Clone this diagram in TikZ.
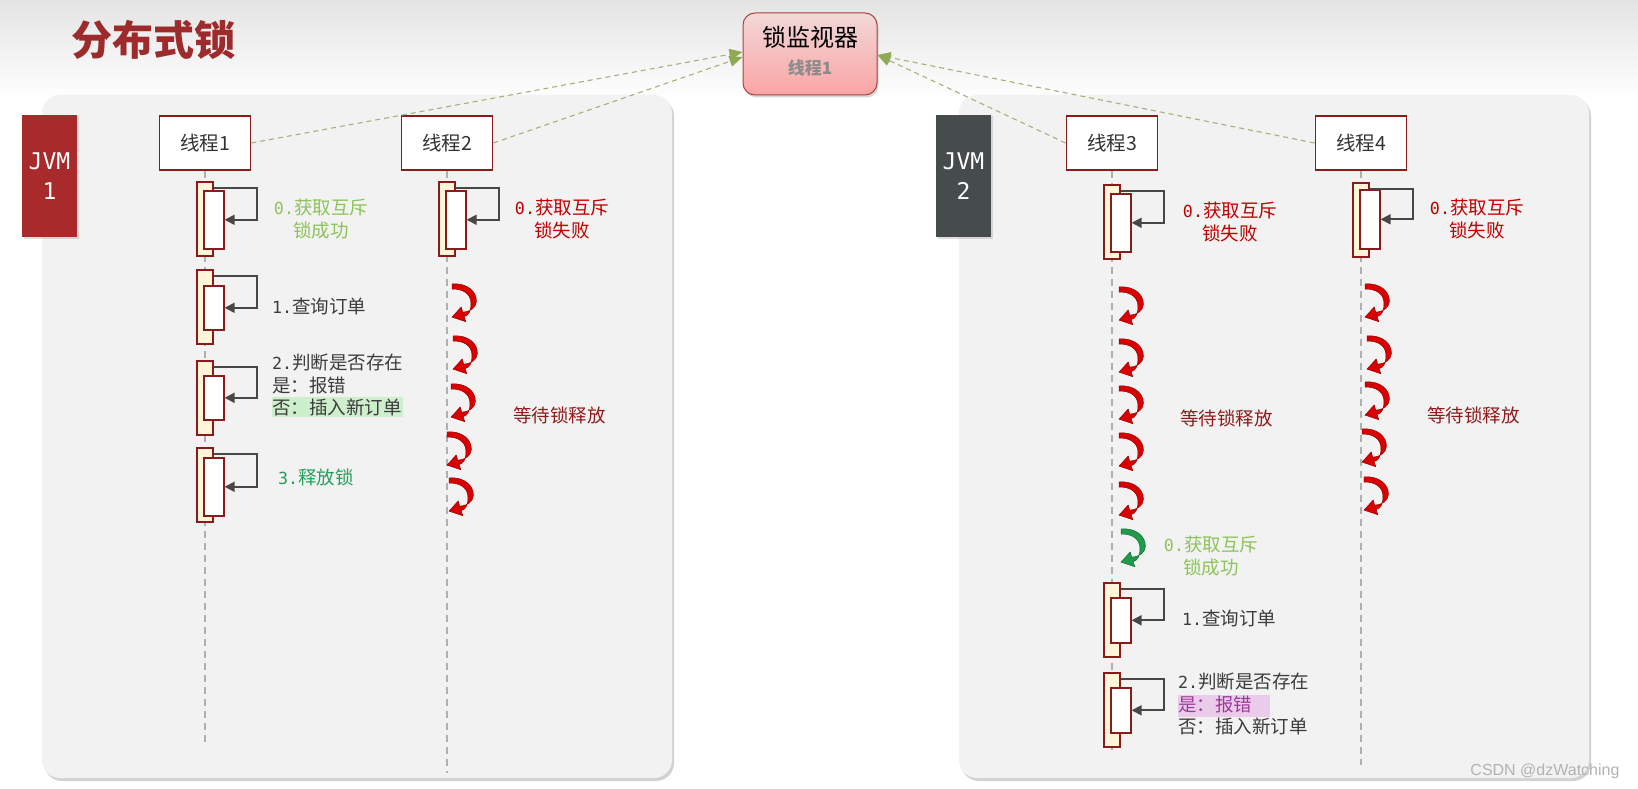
\documentclass[tikz,border=0pt]{standalone}
\usepackage{fontspec}
\setmainfont{Noto Sans CJK SC}
\newfontfamily\monof[Scale=0.9]{DejaVu Sans Mono}
\newfontfamily\jvmf{DejaVu Sans Mono}
\newfontfamily\wmf{Liberation Sans}
\usetikzlibrary{arrows.meta, shadows}

\definecolor{frame}{HTML}{8B1A1A}
\definecolor{actfill}{HTML}{FFF6DA}
\definecolor{bgtop}{HTML}{E4E4E4}
\definecolor{panelgray}{HTML}{F2F2F2}
\definecolor{titlered}{HTML}{9E2B2B}
\definecolor{jvmred}{HTML}{A82A2A}
\definecolor{jvmgray}{HTML}{464B4B}
\definecolor{monborder}{HTML}{A8443F}
\definecolor{montop}{HTML}{F2D8D8}
\definecolor{monbot}{HTML}{FBA4A4}
\definecolor{linkolive}{HTML}{A3B27A}
\definecolor{monarrow}{HTML}{8FAA55}
\definecolor{lifegray}{HTML}{AFAFAF}
\definecolor{callgray}{HTML}{474747}
\definecolor{okgreen}{HTML}{8DC35A}
\definecolor{failred}{HTML}{C00000}
\definecolor{relgreen}{HTML}{22A05A}
\definecolor{waitred}{HTML}{8E1B1B}
\definecolor{textgray}{HTML}{3C3C3C}
\definecolor{curlred}{HTML}{D80000}
\definecolor{curlgreen}{HTML}{1E9B4B}
\definecolor{okhl}{HTML}{CDEFCB}
\definecolor{errhl}{HTML}{EBCBEA}
\definecolor{errtext}{HTML}{9C3A9C}

\newcommand{\actbox}[5]{%
	\node[actout, minimum height=74pt, anchor=north] (#1) at (#2,#3) {};
	\node[actin, minimum height={#5-#4}, anchor=north west] (#1i) at (#2-2,#4) {};
	\draw[selfcall] ([yshift=-7pt]#1.north east) -- ++(43,0) |- (#1i.east);
}
\newcommand{\curl}[3][curlred]{%
	\fill[#1, draw=#1!70!black, line width=0.5pt, shift={(#2,#3)}, scale=0.92] (0,0) .. controls (16,-1.5) and (27,8) .. (26.5,19) .. controls (26,26) and (20,30) .. (11.6,30.6) -- (10,25) -- (0,36) -- (15,41) -- (13.1,35.5) .. controls (19,34) and (21,28) .. (20.5,19.5) .. controls (20,11) and (12,5) .. (0,5.5) -- cycle;
}

\begin{document}
\begin{tikzpicture}[x=1pt, y=-1pt,
		thread/.style={draw=frame, line width=1.8pt, fill=white, minimum width=91pt, minimum height=54pt, inner sep=0pt, font=\fontsize{19.5}{22}\selectfont, text=black!80},
		jvm/.style={minimum width=55pt, minimum height=122pt, inner sep=0pt, align=center, text=white, font=\jvmf\fontsize{23}{30}\selectfont, drop shadow={opacity=0.25, shadow xshift=1.5pt, shadow yshift=-1.5pt}},
		actout/.style={draw=frame, line width=1.6pt, fill=actfill, minimum width=16pt, inner sep=0pt},
		actin/.style={draw=frame, line width=1.6pt, fill=white, minimum width=20pt, inner sep=0pt},
		selfcall/.style={draw=callgray, line width=1.8pt, -{Triangle[length=10pt, width=10pt]}},
		lifeline/.style={draw=lifegray, line width=1.6pt, dash pattern=on 7pt off 5pt},
		monlink/.style={draw=linkolive, line width=1.1pt, dash pattern=on 5pt off 4pt, -{Triangle[length=13pt, width=11pt, color=monarrow]}},
		monitor/.style={draw=monborder, line width=1pt, top color=montop, bottom color=monbot, rounded corners=12pt, minimum width=134pt, minimum height=82pt, drop shadow={opacity=0.3, shadow xshift=1.5pt, shadow yshift=-2.5pt}},
		panel/.style={fill=panelgray, rounded corners=18pt, drop shadow={opacity=0.35, shadow xshift=2pt, shadow yshift=-3pt}},
		lbl/.style={font=\fontsize{18.5}{22.5}\selectfont, inner sep=0pt}]
	\useasboundingbox (0,0) rectangle (1638,789);
	\fill[white] (0,0) rectangle (1638,789);
	\fill[top color=bgtop, bottom color=white] (0,0) rectangle (1638,100);

	\path[panel] (42,95) rectangle (672,778);
	\path[panel] (959,95) rectangle (1589,778);

	\node[font=\fontsize{41}{44}\selectfont\bfseries, text=titlered] (title) at (153,40) {分布式锁};

	\node[monitor] (mon) at (810,54) {};
	\node[font=\fontsize{24}{28}\selectfont, text=black] (monname) at (810,37) {锁监视器};
	\node[font=\fontsize{17}{20}\selectfont\bfseries, text=black!45] (monowner) at (810,68) {线程1};

	\node[jvm, fill=jvmred] (j1) at (49.5,176) {JVM\\1};
	\node[jvm, fill=jvmgray] (j2) at (963.5,176) {JVM\\2};

	\node[thread] (t1) at (205,143) {线程1};
	\node[thread] (t2) at (447,143) {线程2};
	\node[thread] (t3) at (1112,143) {线程3};
	\node[thread] (t4) at (1361,143) {线程4};

	\draw[monlink] (t1.east) -- ([yshift=2pt]mon.west);
	\draw[monlink] (t2.east) -- ([yshift=-3pt]mon.west);
	\draw[monlink] (t3.west) -- ([yshift=-1pt]mon.east);
	\draw[monlink] (t4.west) -- ([yshift=-1pt]mon.east);

	\coordinate (e1) at (205,742);
	\coordinate (e2) at (447,773);
	\coordinate (e3) at (1112,750);
	\coordinate (e4) at (1361,765);
	\draw[lifeline] (t1.south) -- (e1);
	\draw[lifeline] (t2.south) -- (e2);
	\draw[lifeline] (t3.south) -- (e3);
	\draw[lifeline] (t4.south) -- (e4);

	\actbox{a10}{205}{181}{190}{248}
	\actbox{a11}{205}{269}{285}{329}
	\actbox{a12}{205}{360}{375}{419}
	\actbox{a13}{205}{447}{457}{515}
	\actbox{a20}{447}{181}{190}{248}
	\actbox{a30}{1112}{184}{193}{251}
	\actbox{a31}{1112}{582}{597}{642}
	\actbox{a32}{1112}{672}{687}{732}
	\actbox{a40}{1361}{182}{189}{248}

	\foreach \x/\y in {452/284, 453/336, 451/384, 447/432, 449/478, 1119/287, 1119/339, 1119/386, 1119/433, 1119/482, 1365/284, 1367/336, 1365/382, 1362/429, 1364/477}
		\curl{\x}{\y};
	\curl[curlgreen]{1121}{529}

	\fill[okhl] (272,397) rectangle (403,417);
	\fill[errhl] (1178,695) rectangle (1270,717);

	\node[lbl, text=okgreen, align=center] (l10) at (321,219) {{\monof 0.}获取互斥\\锁成功};
	\node[lbl, text=textgray, anchor=west] (l11) at (272,306) {{\monof 1.}查询订单};
	\node[lbl, text=textgray, align=left, anchor=west] (l12) at (272,385) {{\monof 2.}判断是否存在\\是：报错\\否：插入新订单};
	\node[lbl, text=relgreen, anchor=west] (l13) at (278,477) {{\monof 3.}释放锁};
	\node[lbl, text=failred, align=center] (l20) at (562,219) {{\monof 0.}获取互斥\\锁失败};
	\node[lbl, text=waitred, anchor=west] (w2) at (513,415) {等待锁释放};

	\node[lbl, text=failred, align=center] (l30) at (1230,222) {{\monof 0.}获取互斥\\锁失败};
	\node[lbl, text=waitred, anchor=west] (w3) at (1180,418) {等待锁释放};
	\node[lbl, text=okgreen, align=center] (l3g) at (1211,556) {{\monof 0.}获取互斥\\锁成功};
	\node[lbl, text=textgray, anchor=west] (l31) at (1182,618) {{\monof 1.}查询订单};
	\node[lbl, text=textgray, align=left, anchor=west] (l32) at (1178,704) {{\monof 2.}判断是否存在\\{\color{errtext}是：报错}\\否：插入新订单};
	\node[lbl, text=failred, align=center] (l40) at (1477,219) {{\monof 0.}获取互斥\\锁失败};
	\node[lbl, text=waitred, anchor=west] (w4) at (1427,415) {等待锁释放};

	\node[font=\wmf\fontsize{16}{18}\selectfont, text=black!30, anchor=east] (wmark) at (1623,771) {CSDN @dzWatching};
\end{tikzpicture}
\end{document}
